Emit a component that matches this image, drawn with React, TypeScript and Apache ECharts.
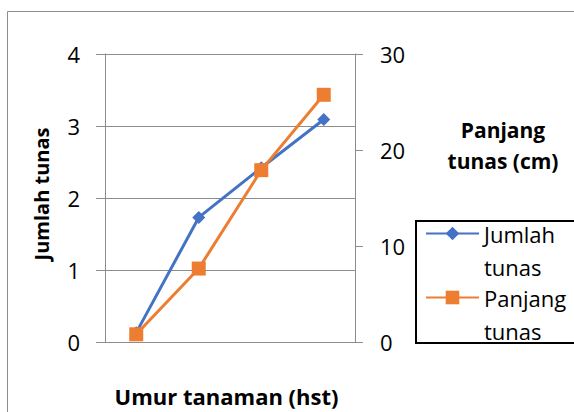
import React, { useEffect, useRef } from "react";
import * as echarts from "echarts";

const categories = ["1", "2", "3", "4"];
const jumlahTunas = [0.13, 1.73, 2.42, 3.09];
const panjangTunas = [0.8, 7.65, 17.9, 25.75];
const leftTicks = { min: 0, max: 4, interval: 1 };
const rightTicks = { min: 0, max: 30, interval: 10 };

const FONT = "Open Sans";
const GRAY = "#8c8c8c";

export default function App() {
  const ref = useRef<HTMLDivElement>(null);
  useEffect(() => {
    const chart = echarts.init(ref.current!, null, { renderer: "svg" });
    chart.setOption({
      animation: false,
      textStyle: { fontFamily: FONT },
      grid: { left: 105, right: 219, top: 54, bottom: 69 },
      xAxis: {
        type: "category",
        data: categories,
        boundaryGap: true,
        axisLine: { show: true, lineStyle: { color: GRAY, width: 1 } },
        axisTick: { show: false },
        axisLabel: { show: false },
        name: "Umur tanaman (hst)",
        nameLocation: "middle",
        nameGap: 43,
        nameTextStyle: { fontFamily: FONT, fontWeight: "bold", fontSize: 22, color: "#000", padding: [0, 7, 0, 0] },
      },
      yAxis: [
        {
          type: "value",
          ...leftTicks,
          position: "left",
          axisLine: { show: true, lineStyle: { color: GRAY, width: 1 } },
          axisTick: { show: true, length: 9, lineStyle: { color: GRAY } },
          splitLine: { show: true, lineStyle: { color: GRAY, width: 1 } },
          axisLabel: { fontFamily: FONT, fontSize: 22, color: "#000", margin: 25 },
          name: "Jumlah tunas",
          nameLocation: "middle",
          nameGap: 54,
          nameTextStyle: { fontFamily: FONT, fontWeight: "bold", fontSize: 20, color: "#000", padding: [0, 0, 0, 8] },
        },
        {
          type: "value",
          ...rightTicks,
          position: "right",
          axisLine: { show: true, lineStyle: { color: GRAY, width: 1 } },
          axisTick: { show: true, length: 8, lineStyle: { color: GRAY } },
          splitLine: { show: false },
          axisLabel: { fontFamily: FONT, fontSize: 22, color: "#000", margin: 25 },
        },
      ],
      legend: {
        orient: "vertical",
        left: 425,
        top: 184,
        padding: 0,
        itemWidth: 53,
        itemHeight: 17,
        itemGap: -35,
        formatter: (name: string) => "\n" + name.replace(" ", "\n"),
        textStyle: {
          fontFamily: FONT,
          fontSize: 22,
          color: "#000",
          lineHeight: 33,
        },
        data: ["Jumlah tunas", "Panjang tunas"],
      },
      graphic: [
        {
          type: "rect",
          shape: { x: 7.5, y: 11.5, width: 700, height: 600 },
          style: { fill: "none", stroke: GRAY, lineWidth: 1 },
          silent: true,
        },
        {
          type: "rect",
          shape: { x: 416, y: 221, width: 300, height: 122 },
          style: { fill: "none", stroke: "#000", lineWidth: 2 },
          silent: true,
        },
        {
          type: "text",
          x: 503,
          y: 145,
          style: {
            text: "Panjang\ntunas (cm)",
            fontFamily: FONT,
            fontWeight: "bold",
            fontSize: 21,
            lineHeight: 31,
            fill: "#000",
            align: "center",
            verticalAlign: "middle",
          },
        },
      ],
      series: [
        {
          name: "Jumlah tunas",
          type: "line",
          yAxisIndex: 0,
          data: jumlahTunas,
          symbol: "diamond",
          symbolSize: 13,
          lineStyle: { color: "#4472C4", width: 3 },
          itemStyle: { color: "#4472C4" },
        },
        {
          name: "Panjang tunas",
          type: "line",
          yAxisIndex: 1,
          data: panjangTunas,
          symbol: "rect",
          symbolSize: 14,
          lineStyle: { color: "#ED7D31", width: 3 },
          itemStyle: { color: "#ED7D31" },
        },
      ],
    });
    return () => chart.dispose();
  }, []);
  return (
    <div
      ref={ref}
      style={{ position: "absolute", left: 0, top: 0, width: 574, height: 412, background: "#fff" }}
    />
  );
}
